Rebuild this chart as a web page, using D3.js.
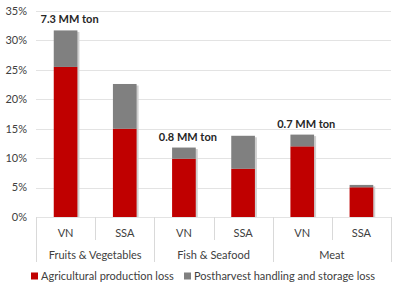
<!DOCTYPE html>
<html>
<head>
<meta charset="utf-8">
<script src="https://cdn.jsdelivr.net/npm/d3@7"></script>
<style>
  body { margin: 0; background: #fff; }
  text { font-family: Lato, "Open Sans", sans-serif; fill: #404040; }
</style>
</head>
<body>
<svg id="chart" width="400" height="291"></svg>
<script>
// --------------------------
// DATA
// --------------------------
const regions = ["VN", "SSA", "VN", "SSA", "VN", "SSA"];
const groups = ["Fruits & Vegetables", "Fish & Seafood", "Meat"];
const production = [25.5, 15.0, 9.9, 8.2, 12.0, 5.05];
const postharvest = [6.2, 7.6, 1.9, 5.6, 2.0, 0.4];
const volumeLabels = ["7.3 MM ton", null, "0.8 MM ton", null, "0.7 MM ton", null];
const yTicks = [0, 5, 10, 15, 20, 25, 30, 35];
const seriesNames = ["Agricultural production loss", "Postharvest handling and storage loss"];
const colors = ["#c00000", "#808080"];

const svg = d3.select("#chart");
const margin = { top: 11, right: 9, bottom: 74, left: 36 };
const width = +svg.attr("width");
const height = +svg.attr("height");
const x0 = margin.left, x1 = width - margin.right;
const y0 = height - margin.bottom;

const idx = d3.range(regions.length);

const x = d3.scaleBand()
    .domain(idx)
    .range([x0, x1])
    .paddingInner(0)
    .paddingOuter(0);

const y = d3.scaleLinear()
    .domain([0, 35])
    .range([y0, margin.top]);

// Gridlines
svg.append("g")
    .selectAll("line")
    .data(yTicks)
    .enter().append("line")
    .attr("x1", x0).attr("x2", x1)
    .attr("y1", d => Math.round(y(d)) + 0.5)
    .attr("y2", d => Math.round(y(d)) + 0.5)
    .attr("stroke", "#e3e3e3");

// Y tick labels
svg.append("g")
    .selectAll("text")
    .data(yTicks)
    .enter().append("text")
    .attr("x", 27)
    .attr("y", d => y(d))
    .attr("dy", "0.35em")
    .attr("text-anchor", "end")
    .style("font-size", "11px")
    .text(d => d + "%");

// Stack
const stacked = idx.map(i => ({
    i,
    segs: [
        { lo: 0, hi: production[i], s: 0 },
        { lo: production[i], hi: production[i] + postharvest[i], s: 1 }
    ]
}));

const bw = x.bandwidth() * 0.4;

// Shadows
svg.append("g")
    .selectAll("rect")
    .data(stacked)
    .enter().append("rect")
    .attr("x", d => x(d.i) + (x.bandwidth() - bw) / 2 + 2)
    .attr("y", d => y(d.segs[1].hi) + 1.5)
    .attr("width", bw)
    .attr("height", d => y0 - y(d.segs[1].hi) - 1.5)
    .attr("fill", "#d0d0d0");

// Bars
const bar = svg.append("g")
    .selectAll("g")
    .data(stacked)
    .enter().append("g");

bar.selectAll("rect")
    .data(d => d.segs.map(s => ({ ...s, i: d.i })))
    .enter().append("rect")
    .attr("x", d => x(d.i) + (x.bandwidth() - bw) / 2)
    .attr("y", d => y(d.hi))
    .attr("width", bw)
    .attr("height", d => y(d.lo) - y(d.hi))
    .attr("fill", d => colors[d.s]);

// Volume labels
svg.append("g")
    .selectAll("text")
    .data(idx.filter(i => volumeLabels[i]))
    .enter().append("text")
    .attr("x", i => x(i) + x.bandwidth() / 2 + 4)
    .attr("y", i => y(production[i] + postharvest[i]) - 7)
    .attr("text-anchor", "middle")
    .style("font-size", "11px")
    .style("font-weight", "bold")
    .style("fill", "#262626")
    .text(i => volumeLabels[i]);

// X axis separators
const sep = svg.append("g").attr("stroke", "#d9d9d9");
d3.range(regions.length + 1).forEach(k => {
    const xx = k < regions.length ? x(k) : x1;
    const isGroup = k % 2 === 0;
    sep.append("line")
        .attr("x1", Math.round(xx) + 0.5).attr("x2", Math.round(xx) + 0.5)
        .attr("y1", y0).attr("y2", isGroup ? 262 : 240);
});

// Category labels
svg.append("g")
    .selectAll("text")
    .data(idx)
    .enter().append("text")
    .attr("x", i => x(i) + x.bandwidth() / 2)
    .attr("y", 237)
    .attr("text-anchor", "middle")
    .style("font-size", "11px")
    .text(i => regions[i]);

svg.append("g")
    .selectAll("text")
    .data(groups)
    .enter().append("text")
    .attr("x", (d, g) => x(g * 2) + x.bandwidth())
    .attr("y", 259)
    .attr("text-anchor", "middle")
    .style("font-size", "11px")
    .text(d => d);

// Legend
const legendX = [31, 184];
const legend = svg.append("g")
    .selectAll("g")
    .data(seriesNames)
    .enter().append("g")
    .attr("transform", (d, k) => `translate(${legendX[k]},276)`);

legend.append("rect")
    .attr("x", 0).attr("y", -3.5)
    .attr("width", 7).attr("height", 7)
    .attr("fill", (d, k) => colors[k]);

legend.append("text")
    .attr("x", 10)
    .attr("dy", "0.35em")
    .style("font-size", "11px")
    .text(d => d);
</script>
</body>
</html>
